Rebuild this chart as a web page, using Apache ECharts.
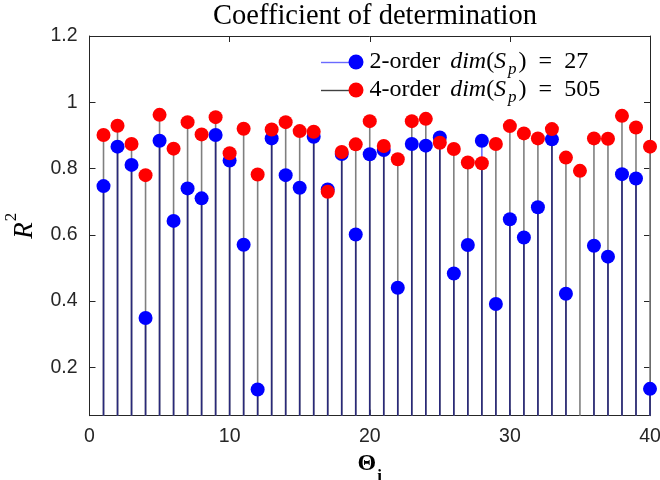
<!DOCTYPE html>
<html>
<head>
<meta charset="utf-8">
<script src="https://cdn.jsdelivr.net/npm/echarts@6/dist/echarts.min.js"></script>
<style>
  html, body { margin: 0; padding: 0; background: #fff; }
  #chart { width: 660px; height: 480px; }
</style>
</head>
<body>
<div id="chart"></div>
<script>
// Index of each parameter Θ_i
const thetaIndex = [1,2,3,4,5,6,7,8,9,10,11,12,13,14,15,16,17,18,19,20,
                    21,22,23,24,25,26,27,28,29,30,31,32,33,34,35,36,37,38,39,40];

// R^2 of the 2-order model, dim(S_p) = 27
const r2Order2 = [0.747,0.866,0.811,0.349,0.884,0.642,0.740,0.710,0.901,0.824,
                  0.570,0.133,0.891,0.780,0.742,0.896,0.737,0.844,0.601,0.843,
                  0.856,0.440,0.874,0.869,0.894,0.483,0.569,0.884,0.391,0.647,
                  0.592,0.683,0.888,0.422,null,0.567,0.534,0.783,0.770,0.135];

// R^2 of the 4-order model, dim(S_p) = 505
const r2Order4 = [0.901,0.929,0.874,0.780,0.962,0.860,0.940,0.903,0.955,0.846,
                  0.920,0.782,0.918,0.940,0.913,0.911,0.730,0.850,0.873,0.943,
                  0.868,0.828,0.943,0.950,0.878,0.859,0.818,0.816,0.874,0.928,
                  0.906,0.891,0.919,0.833,0.793,0.891,0.890,0.959,0.924,0.866];

const xTicks = [0, 10, 20, 30, 40];
const yTicks = [0.2, 0.4, 0.6, 0.8, 1.0, 1.2];
const seriesNames = ['2-order', '4-order'];
const seriesDims = [27, 505];

const Y_MIN = 0.054, Y_MAX = 1.2;
const AXIS_COLOR = '#262626';
const SERIF = 'Liberation Serif';
const SANS = 'Liberation Sans';

const chart = echarts.init(document.getElementById('chart'), null, { renderer: 'canvas' });

// stems: [x, 2-order value, 4-order value]
const stemData = thetaIndex.map((x, k) => [x, r2Order2[k], r2Order4[k]]);

function renderStem(params, api) {
  const x = api.value(0);
  const b = r2Order2[params.dataIndex];
  const r = r2Order4[params.dataIndex];
  const children = [];
  const seg = (v0, v1, color) => {
    const p0 = api.coord([x, v0]);
    const p1 = api.coord([x, v1]);
    children.push({
      type: 'line',
      shape: { x1: p0[0], y1: p0[1], x2: p1[0], y2: p1[1] },
      style: { stroke: color, lineWidth: 1.6 }
    });
  };
  const base = Y_MIN - 0.5;
  if (r != null) seg(base, r, '#7f7f7f');
  if (b != null) {
    const low = r != null ? Math.min(b, r) : b;
    seg(base, low, '#29297a');
    if (r != null && b > r) seg(r, b, '#7070ff');
  }
  return { type: 'group', children };
}

function legendText(name) {
  const k = seriesNames.indexOf(name);
  return '{r|' + name + '}{sp| }{i|dim}{r|(}{i|S}{sub|p}{r|)}{eq|=}{r|' + seriesDims[k] + '}';
}

const option = {
  animation: false,
  backgroundColor: '#ffffff',
  title: {
    text: 'Coefficient of determination',
    left: 370,
    textAlign: 'center',
    top: -3,
    textStyle: { fontFamily: SERIF, fontSize: 28.5, fontWeight: 'normal', color: '#000' }
  },
  grid: { left: 89.5, right: 10, top: 36, bottom: 64.3, outerBoundsMode: 'none', containLabel: false },
  legend: {
    data: seriesNames,
    orient: 'vertical',
    left: 343.5,
    top: 45,
    itemWidth: 15,
    itemHeight: 15,
    itemGap: 0,
    icon: 'circle',
    formatter: legendText,
    textStyle: {
      padding: [0, 0, 0, 1],
      rich: {
        r: { fontFamily: SERIF, fontSize: 24, color: '#000', lineHeight: 20 },
        sp: { fontFamily: SERIF, fontSize: 24, color: '#000', lineHeight: 20, padding: [0, 4, 0, 0] },
        i: { fontFamily: SERIF, fontSize: 24, fontStyle: 'italic', color: '#000', lineHeight: 20 },
        eq: { fontFamily: SERIF, fontSize: 24, color: '#000', lineHeight: 20, padding: [0, 12, 0, 12] },
        sub: { fontFamily: SERIF, fontSize: 17, fontStyle: 'italic', color: '#000',
               verticalAlign: 'bottom', lineHeight: 12, padding: [0, 2, -6, 2] }
      }
    }
  },
  graphic: [
    { type: 'line', shape: { x1: 321, y1: 62.5, x2: 352, y2: 62.5 }, style: { stroke: '#6a6aff', lineWidth: 1.4 } },
    { type: 'line', shape: { x1: 321, y1: 90.5, x2: 352, y2: 90.5 }, style: { stroke: '#404040', lineWidth: 1.4 } }
  ],
  xAxis: [{
    type: 'value', min: 0, max: 40, interval: 10,
    name: '{b|Θ}{s|i}', nameLocation: 'middle', nameGap: 34,
    nameTextStyle: {
      rich: {
        b: { fontFamily: SERIF, fontSize: 24, fontWeight: 'bold', color: '#000' },
        s: { fontFamily: SERIF, fontSize: 17, fontWeight: 'bold', color: '#000',
             verticalAlign: 'bottom', padding: [0, 0, -10, 1] }
      }
    },
    axisLine: { show: true, onZero: false, lineStyle: { color: AXIS_COLOR, width: 1 } },
    axisTick: { show: true, inside: true, length: 6, lineStyle: { color: AXIS_COLOR } },
    axisLabel: { fontFamily: SANS, fontSize: 19.5, color: AXIS_COLOR, margin: 11,
                 customValues: xTicks },
    splitLine: { show: false }
  }, {
    type: 'value', min: 0, max: 40, interval: 10, position: 'top',
    axisLine: { show: true, onZero: false, lineStyle: { color: AXIS_COLOR, width: 1 } },
    axisTick: { show: true, inside: true, length: 6, lineStyle: { color: AXIS_COLOR } },
    axisLabel: { show: false },
    splitLine: { show: false }
  }],
  yAxis: [{
    type: 'value', min: Y_MIN, max: Y_MAX,
    name: '{i|R}{p|2}', nameLocation: 'middle', nameGap: 51, nameRotate: 90,
    nameTextStyle: {
      rich: {
        i: { fontFamily: SERIF, fontSize: 27, fontStyle: 'italic', color: '#000' },
        p: { fontFamily: SERIF, fontSize: 17, color: '#000', verticalAlign: 'top', padding: [-8, 0, 0, 1] }
      }
    },
    axisLine: { show: true, onZero: false, lineStyle: { color: AXIS_COLOR, width: 1 } },
    axisTick: { show: true, inside: true, length: 6, customValues: yTicks, lineStyle: { color: AXIS_COLOR } },
    axisLabel: { fontFamily: SANS, fontSize: 19.5, color: AXIS_COLOR, margin: 12,
                 customValues: yTicks, formatter: v => String(+v.toFixed(1)) },
    splitLine: { show: false }
  }, {
    type: 'value', min: Y_MIN, max: Y_MAX, position: 'right',
    axisLine: { show: true, onZero: false, lineStyle: { color: AXIS_COLOR, width: 1 } },
    axisTick: { show: true, inside: true, length: 6, customValues: yTicks, lineStyle: { color: AXIS_COLOR } },
    axisLabel: { show: false },
    splitLine: { show: false }
  }],
  series: [
    {
      type: 'custom', name: 'stems', renderItem: renderStem,
      data: stemData, clip: true, z: 1, silent: true,
      encode: { x: 0, y: [1, 2] }
    },
    {
      type: 'scatter', name: seriesNames[0], z: 2,
      symbol: 'circle', symbolSize: 14,
      itemStyle: { color: '#0000ff', opacity: 1 },
      data: thetaIndex.map((x, k) => [x, r2Order2[k]]).filter(d => d[1] != null)
    },
    {
      type: 'scatter', name: seriesNames[1], z: 3,
      symbol: 'circle', symbolSize: 14,
      itemStyle: { color: '#ff0000', opacity: 1 },
      data: thetaIndex.map((x, k) => [x, r2Order4[k]])
    }
  ]
};

chart.setOption(option);
</script>
</body>
</html>
